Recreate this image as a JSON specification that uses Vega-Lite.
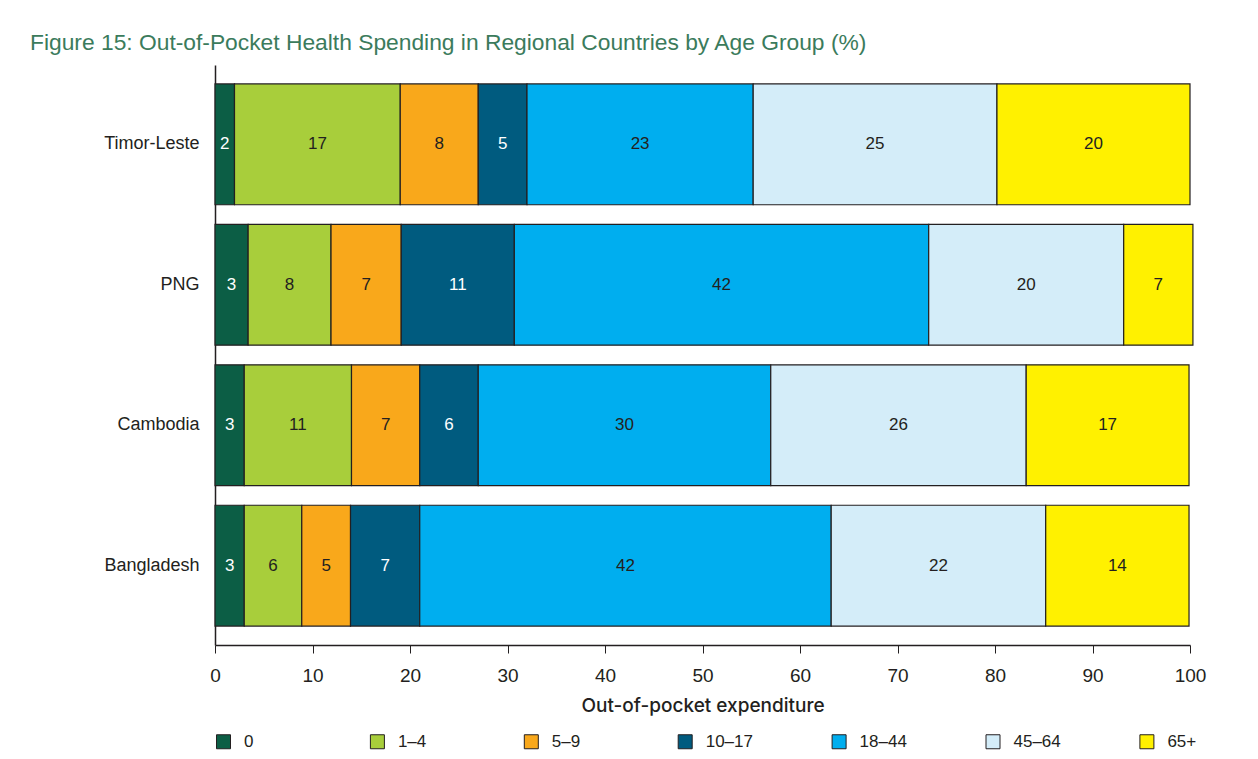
{
  "$schema": "https://vega.github.io/schema/vega-lite/v6.json",
  "autosize": {"type": "none"},
  "width": 975,
  "height": 580,
  "padding": {"left": 215, "top": 65, "right": 68, "bottom": 114},
  "background": "white",
  "config": {"view": {"stroke": null}},
  "title": {
    "text": "Figure 15: Out-of-Pocket Health Spending in Regional Countries by Age Group (%)",
    "anchor": "start",
    "frame": "bounds",
    "font": "Liberation Sans",
    "fontSize": 22.8,
    "fontWeight": "normal",
    "color": "#3b7b5c",
    "offset": 10
  },
  "data": {
    "values": [
      {"country": "Timor-Leste", "age": "0", "k": 0, "value": 2, "label": "2"},
      {"country": "Timor-Leste", "age": "1–4", "k": 1, "value": 17, "label": "17"},
      {"country": "Timor-Leste", "age": "5–9", "k": 2, "value": 8, "label": "8"},
      {"country": "Timor-Leste", "age": "10–17", "k": 3, "value": 5, "label": "5"},
      {"country": "Timor-Leste", "age": "18–44", "k": 4, "value": 23.2, "label": "23"},
      {"country": "Timor-Leste", "age": "45–64", "k": 5, "value": 25, "label": "25"},
      {"country": "Timor-Leste", "age": "65+", "k": 6, "value": 19.8, "label": "20"},
      {"country": "PNG", "age": "0", "k": 0, "value": 3.4, "label": "3"},
      {"country": "PNG", "age": "1–4", "k": 1, "value": 8.5, "label": "8"},
      {"country": "PNG", "age": "5–9", "k": 2, "value": 7.2, "label": "7"},
      {"country": "PNG", "age": "10–17", "k": 3, "value": 11.6, "label": "11"},
      {"country": "PNG", "age": "18–44", "k": 4, "value": 42.5, "label": "42"},
      {"country": "PNG", "age": "45–64", "k": 5, "value": 20, "label": "20"},
      {"country": "PNG", "age": "65+", "k": 6, "value": 7.1, "label": "7"},
      {"country": "Cambodia", "age": "0", "k": 0, "value": 3, "label": "3"},
      {"country": "Cambodia", "age": "1–4", "k": 1, "value": 11, "label": "11"},
      {"country": "Cambodia", "age": "5–9", "k": 2, "value": 7, "label": "7"},
      {"country": "Cambodia", "age": "10–17", "k": 3, "value": 6, "label": "6"},
      {"country": "Cambodia", "age": "18–44", "k": 4, "value": 30, "label": "30"},
      {"country": "Cambodia", "age": "45–64", "k": 5, "value": 26.2, "label": "26"},
      {"country": "Cambodia", "age": "65+", "k": 6, "value": 16.7, "label": "17"},
      {"country": "Bangladesh", "age": "0", "k": 0, "value": 3, "label": "3"},
      {"country": "Bangladesh", "age": "1–4", "k": 1, "value": 5.9, "label": "6"},
      {"country": "Bangladesh", "age": "5–9", "k": 2, "value": 5, "label": "5"},
      {"country": "Bangladesh", "age": "10–17", "k": 3, "value": 7.1, "label": "7"},
      {"country": "Bangladesh", "age": "18–44", "k": 4, "value": 42.2, "label": "42"},
      {"country": "Bangladesh", "age": "45–64", "k": 5, "value": 22, "label": "22"},
      {"country": "Bangladesh", "age": "65+", "k": 6, "value": 14.7, "label": "14"}
    ]
  },
  "encoding": {
    "y": {
      "field": "country",
      "type": "nominal",
      "sort": ["Timor-Leste", "PNG", "Cambodia", "Bangladesh"],
      "scale": {"paddingInner": 0.14, "paddingOuter": 0.135},
      "axis": {
        "title": null,
        "ticks": false,
        "labelFont": "Liberation Sans",
        "labelFontSize": 18,
        "labelColor": "#231f20",
        "labelPadding": 16,
        "domainColor": "#231f20",
        "domainWidth": 1.5,
        "minExtent": 185
      }
    }
  },
  "layer": [
    {
      "mark": {"type": "bar", "stroke": "#231f20", "strokeWidth": 1.2},
      "encoding": {
        "x": {
          "field": "value",
          "type": "quantitative",
          "stack": "zero",
          "title": "Out-of-pocket expenditure",
          "scale": {"domain": [0, 100], "nice": false},
          "axis": {
            "values": [0, 10, 20, 30, 40, 50, 60, 70, 80, 90, 100],
            "grid": false,
            "labelFlush": false,
            "tickSize": 8,
            "tickColor": "#231f20",
            "domainColor": "#231f20",
            "domainWidth": 1.5,
            "labelFont": "Liberation Sans",
            "labelFontSize": 19,
            "labelColor": "#231f20",
            "labelPadding": 13,
            "titleFont": "Inter",
            "titleFontWeight": 500,
            "titleFontSize": 19,
            "titleColor": "#231f20",
            "titlePadding": 11
          }
        },
        "color": {
          "field": "age",
          "type": "nominal",
          "sort": ["0", "1–4", "5–9", "10–17", "18–44", "45–64", "65+"],
          "scale": {
            "domain": ["0", "1–4", "5–9", "10–17", "18–44", "45–64", "65+"],
            "range": ["#0c5e45", "#a8ce3b", "#f9a81b", "#005b7f", "#00aeef", "#d4edf9", "#fff100"]
          },
          "legend": {
            "title": null,
            "orient": "bottom",
            "direction": "horizontal",
            "columns": 7,
            "gridAlign": "all",
            "columnPadding": 75.9,
            "symbolType": "square",
            "symbolSize": 196,
            "symbolStrokeColor": "#231f20",
            "symbolStrokeWidth": 1,
            "labelFont": "Liberation Sans",
            "labelFontSize": 17,
            "labelColor": "#231f20",
            "labelOffset": 12,
            "offset": 18,
            "padding": 0
          }
        },
        "order": {"field": "k", "type": "quantitative"}
      }
    },
    {
      "transform": [
        {"stack": "value", "groupby": ["country"], "sort": [{"field": "k"}], "as": ["x0", "x1"]},
        {"calculate": "(datum.x0 + datum.x1) / 2", "as": "mid"}
      ],
      "mark": {"type": "text", "font": "Liberation Sans", "fontSize": 17, "align": "center", "baseline": "middle"},
      "encoding": {
        "x": {"field": "mid", "type": "quantitative", "title": "Out-of-pocket expenditure"},
        "text": {"field": "label"},
        "fill": {
          "condition": {"test": "datum.age === '0' || datum.age === '10–17'", "value": "#ffffff"},
          "value": "#231f20"
        }
      }
    }
  ]
}
